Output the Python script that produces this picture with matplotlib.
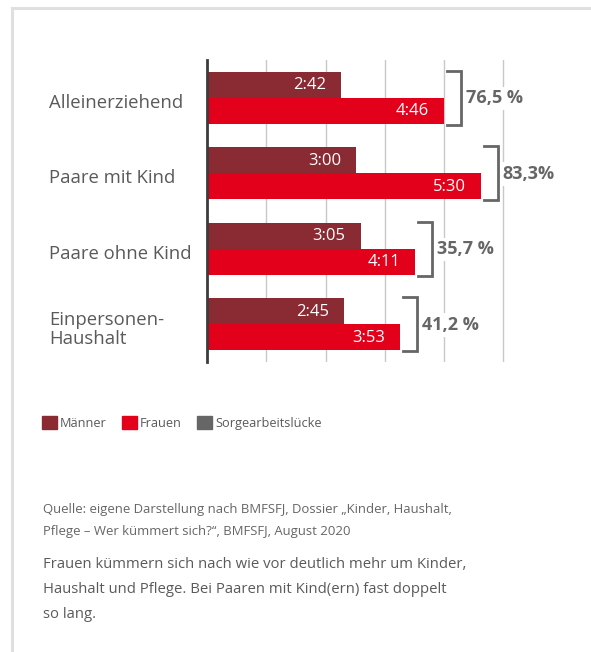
import matplotlib
matplotlib.use("Agg")
import matplotlib.pyplot as plt
import matplotlib.transforms as mtransforms
from matplotlib.lines import Line2D
from matplotlib.patches import Patch
import numpy as np

plt.rcParams["font.family"] = ["Open Sans", "DejaVu Sans"]

# ---------------------------------------------------------------------------
# data (hh:mm per day)
# ---------------------------------------------------------------------------
categories = ["Alleinerziehend", "Paare mit Kind", "Paare ohne Kind", "Einpersonen-\nHaushalt"]
maenner = ["2:42", "3:00", "3:05", "2:45"]
frauen = ["4:46", "5:30", "4:11", "3:53"]
luecke = ["76,5 %", "83,3%", "35,7 %", "41,2 %"]
legend_labels = ["Männer", "Frauen", "Sorgearbeitslücke"]

quelle = ["Quelle: eigene Darstellung nach BMFSFJ, Dossier „Kinder, Haushalt,",
          "Pflege – Wer kümmert sich?“, BMFSFJ, August 2020"]
caption = ["Frauen kümmern sich nach wie vor deutlich mehr um Kinder,",
           "Haushalt und Pflege. Bei Paaren mit Kind(ern) fast doppelt",
           "so lang."]

C_MEN = "#8a2a32"
C_WOMEN = "#e2001a"
C_GAP = "#666666"
C_TEXT = "#5a5a5a"


def to_hours(s):
    h, m = s.split(":")
    return int(h) + int(m) / 60.0


men_h = np.array([to_hours(s) for s in maenner])
women_h = np.array([to_hours(s) for s in frauen])

W, H = 591, 652
fig = plt.figure(figsize=(W / 100, H / 100), dpi=100)
fig.patch.set_facecolor("white")


def fx(px):
    return px / W


def fy(px):
    return 1 - px / H


XMAX = 7.0
PX_PER_H = 49.8
ax_left, ax_top, ax_bot = 207, 60, 362
ax = fig.add_axes([fx(ax_left), fy(ax_bot), XMAX * PX_PER_H / W, (ax_bot - ax_top) / H])

y = np.arange(len(categories))
bh = 0.345
ax.barh(y - bh / 2, men_h, height=bh, color=C_MEN, zorder=3)
ax.barh(y + bh / 2, women_h, height=bh, color=C_WOMEN, zorder=3)

ax.set_xlim(0, XMAX)
ax.set_ylim(len(categories) - 0.5, -0.5)
ax.set_xticks(np.arange(1, 6) * 1.19)
ax.set_yticks([])
ax.tick_params(axis="x", length=0, labelbottom=False)
ax.grid(axis="x", color="#c8c8c8", linewidth=1.0, zorder=0)
for side in ["top", "right", "bottom"]:
    ax.spines[side].set_visible(False)
ax.spines["left"].set_color("#3c3c3c")
ax.spines["left"].set_linewidth(2.0)
ax.spines["left"].set_zorder(4)

# values inside bars
for i in range(len(categories)):
    ax.annotate(maenner[i], (men_h[i], y[i] - bh / 2), xytext=(-11, -0.5),
                textcoords="offset points", ha="right", va="center",
                color="white", fontsize=12, zorder=5)
    ax.annotate(frauen[i], (women_h[i], y[i] + bh / 2), xytext=(-11, -0.5),
                textcoords="offset points", ha="right", va="center",
                color="white", fontsize=12, zorder=5)

# brackets + gap labels
for i in range(len(categories)):
    x0 = max(men_h[i], women_h[i]) + 0.06
    x1 = x0 + 0.28
    top = y[i] - bh - 0.015
    bot = y[i] + bh + 0.015
    ax.plot([x0, x1, x1, x0], [top, top, bot, bot], color=C_GAP,
            linewidth=2.0, solid_joinstyle="miter", zorder=5, clip_on=False)
    ax.annotate(luecke[i], (x1, y[i]), xytext=(3.5, -0.5), textcoords="offset points",
                ha="left", va="center", color=C_GAP, fontsize=13,
                fontweight="bold", zorder=6,
                bbox=dict(boxstyle="square,pad=0.15", fc="white", ec="none"))

# category labels (sit a little below the group centre, as in the original)
trans = mtransforms.blended_transform_factory(fig.transFigure, ax.transData)
for i, cat in enumerate(categories):
    ax.annotate(cat, (fx(49), y[i]), xycoords=trans, xytext=(0, -3.6),
                textcoords="offset points", ha="left", va="center",
                fontsize=13.3, color=C_TEXT, linespacing=1.05)

# legend
handles = [Patch(color=c) for c in (C_MEN, C_WOMEN, C_GAP)]
fig.legend(handles, legend_labels, loc="center left",
           bbox_to_anchor=(fx(42), fy(423)), ncol=3, frameon=False,
           fontsize=9.2, labelcolor=C_TEXT, handlelength=1.15, handleheight=1.15,
           handletextpad=0.25, columnspacing=1.2, borderpad=0, borderaxespad=0)

# source + caption
for k, line in enumerate(quelle):
    fig.text(fx(43), fy(513 + 22 * k), line, ha="left", va="baseline",
             fontsize=9.45, color="#666666")
for k, line in enumerate(caption):
    fig.text(fx(43), fy(568 + 25 * k), line, ha="left", va="baseline",
             fontsize=10.75, color=C_TEXT)

# frame lines
fig.add_artist(Line2D([fx(12), fx(W)], [fy(8), fy(8)], color="#e0e0e0",
                      linewidth=2.2, transform=fig.transFigure))
fig.add_artist(Line2D([fx(12), fx(12)], [fy(8), fy(H)], color="#e0e0e0",
                      linewidth=2.2, transform=fig.transFigure))

fig.savefig("out.png", dpi=100)
